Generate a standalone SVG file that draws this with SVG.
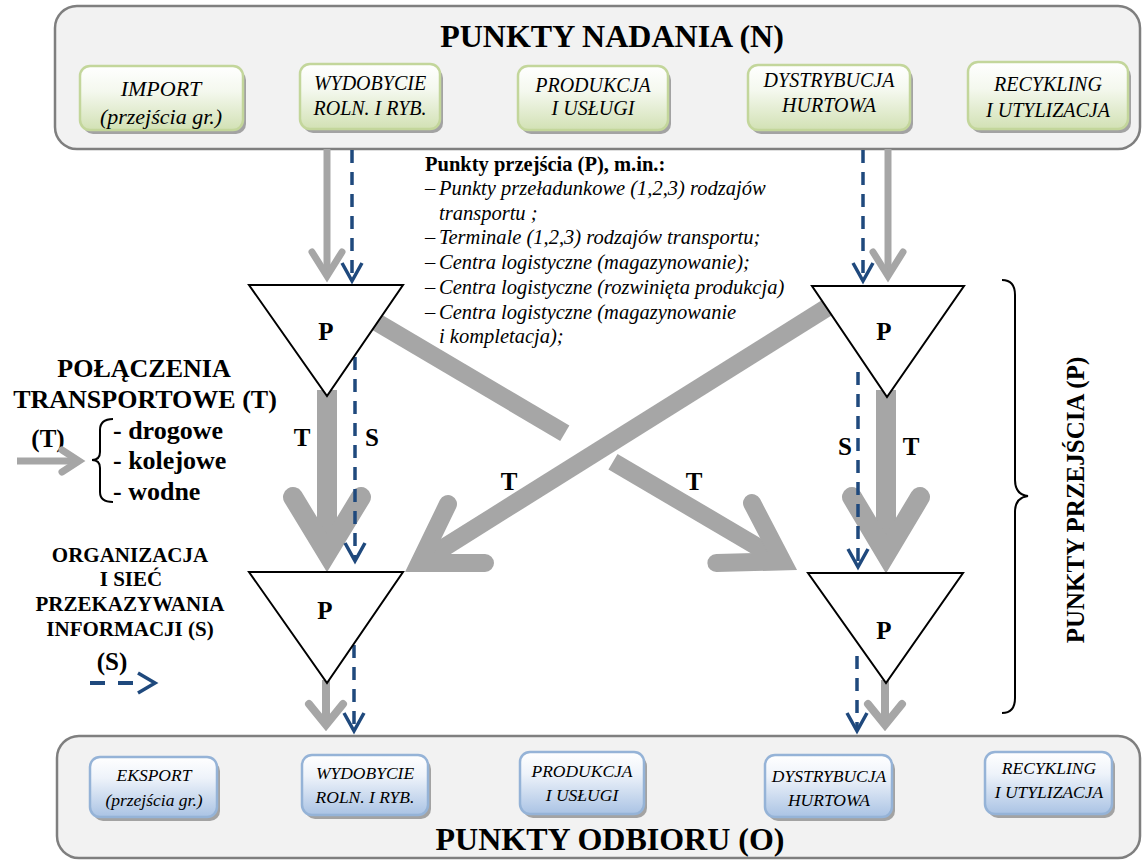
<svg xmlns="http://www.w3.org/2000/svg" width="1144" height="861" viewBox="0 0 1144 861">
<defs>
<linearGradient id="gGreen" x1="0" y1="0" x2="0" y2="1"><stop offset="0" stop-color="#ffffff"/><stop offset="0.4" stop-color="#f4f8ee"/><stop offset="1" stop-color="#d2e1b4"/></linearGradient>
<linearGradient id="gBlue" x1="0" y1="0" x2="0" y2="1"><stop offset="0" stop-color="#ffffff"/><stop offset="0.35" stop-color="#eef3fa"/><stop offset="1" stop-color="#aac3e4"/></linearGradient>
</defs>
<style>
.cont{fill:#f2f2f2;stroke:#7f7f7f;stroke-width:2.5}
.gbox{fill:url(#gGreen);stroke:#c3d69b;stroke-width:2.5}
.bbox{fill:url(#gBlue);stroke:#95b3d7;stroke-width:2.5}
.shadow{fill:#a3a3a3}
.tri{fill:#ffffff;stroke:#000000;stroke-width:2}
.gray{fill:none;stroke:#a6a6a6;stroke-linejoin:miter;stroke-miterlimit:6}
.cap{stroke-linecap:round}
.blue{fill:none;stroke:#1f497d;stroke-width:3.5;stroke-dasharray:13 9}
.bhead{fill:none;stroke:#1f497d;stroke-width:3.5;stroke-linejoin:miter}
.brace{fill:none;stroke:#000000;stroke-width:2}
.it{font-family:"Liberation Serif","Times New Roman",serif;font-style:italic;fill:#000}
.b{font-family:"Liberation Serif","Times New Roman",serif;font-weight:bold;fill:#000}
.mid{text-anchor:middle}
</style>

<g id="nadania">
<rect class="cont" x="55" y="6" width="1085" height="143" rx="22"/>
<text class="b mid" x="612" y="47" font-size="32">PUNKTY NADANIA (N)</text>
</g>

<g id="n-import">
<rect class="shadow" x="83" y="70" width="163" height="64" rx="10"/>
<rect class="gbox" x="80" y="66" width="163" height="64" rx="10"/>
<text class="it mid" x="161" y="96" font-size="22">IMPORT</text>
<text class="it mid" x="161" y="124" font-size="22">(przejścia gr.)</text>
</g>
<g id="n-wydobycie">
<rect class="shadow" x="303" y="68" width="140" height="65" rx="10"/>
<rect class="gbox" x="300" y="64" width="140" height="65" rx="10"/>
<text class="it mid" x="370" y="90" font-size="20">WYDOBYCIE</text>
<text class="it mid" x="370" y="115" font-size="20">ROLN. I RYB.</text>
</g>
<g id="n-produkcja">
<rect class="shadow" x="521" y="70" width="150" height="64" rx="10"/>
<rect class="gbox" x="518" y="66" width="150" height="64" rx="10"/>
<text class="it mid" x="593" y="92" font-size="20">PRODUKCJA</text>
<text class="it mid" x="593" y="115" font-size="20">I USŁUGI</text>
</g>
<g id="n-dystrybucja">
<rect class="shadow" x="751" y="69" width="162" height="65" rx="10"/>
<rect class="gbox" x="748" y="65" width="162" height="65" rx="10"/>
<text class="it mid" x="829" y="87" font-size="20">DYSTRYBUCJA</text>
<text class="it mid" x="829" y="112" font-size="20">HURTOWA</text>
</g>
<g id="n-recykling">
<rect class="shadow" x="971" y="66" width="160" height="67" rx="10"/>
<rect class="gbox" x="968" y="62" width="160" height="67" rx="10"/>
<text class="it mid" x="1048" y="91" font-size="20">RECYKLING</text>
<text class="it mid" x="1048" y="117" font-size="20">I UTYLIZACJA</text>
</g>

<g id="odbioru">
<rect class="cont" x="57" y="736" width="1083" height="122" rx="22"/>
<text class="b mid" x="610" y="850" font-size="32">PUNKTY ODBIORU (O)</text>
</g>
<g id="o-eksport">
<rect class="shadow" x="93" y="761" width="127" height="60" rx="10"/>
<rect class="bbox" x="90" y="757" width="127" height="60" rx="10"/>
<text class="it mid" x="154" y="781" font-size="17.5">EKSPORT</text>
<text class="it mid" x="154" y="806" font-size="17.5">(przejścia gr.)</text>
</g>
<g id="o-wydobycie">
<rect class="shadow" x="305" y="759" width="126" height="60" rx="10"/>
<rect class="bbox" x="302" y="755" width="126" height="60" rx="10"/>
<text class="it mid" x="365" y="779" font-size="17.5">WYDOBYCIE</text>
<text class="it mid" x="365" y="803" font-size="17.5">ROLN. I RYB.</text>
</g>
<g id="o-produkcja">
<rect class="shadow" x="523" y="756" width="124" height="62" rx="10"/>
<rect class="bbox" x="520" y="752" width="124" height="62" rx="10"/>
<text class="it mid" x="582" y="777" font-size="17.5">PRODUKCJA</text>
<text class="it mid" x="582" y="801" font-size="17.5">I USŁUGI</text>
</g>
<g id="o-dystrybucja">
<rect class="shadow" x="768" y="759" width="127" height="62" rx="10"/>
<rect class="bbox" x="765" y="755" width="127" height="62" rx="10"/>
<text class="it mid" x="829" y="782" font-size="17.5">DYSTRYBUCJA</text>
<text class="it mid" x="829" y="806" font-size="17.5">HURTOWA</text>
</g>
<g id="o-recykling">
<rect class="shadow" x="988" y="756" width="127" height="62" rx="10"/>
<rect class="bbox" x="985" y="752" width="127" height="62" rx="10"/>
<text class="it mid" x="1049" y="774" font-size="17.5">RECYKLING</text>
<text class="it mid" x="1049" y="798" font-size="17.5">I UTYLIZACJA</text>
</g>

<g id="connectors">
<!-- top to upper triangles -->
<line class="gray" x1="327" y1="149" x2="327" y2="276" stroke-width="7"/>
<polyline class="gray cap" points="312,252 327,276 342,252" stroke-width="7"/>
<line class="blue" x1="352" y1="150" x2="352" y2="280"/>
<polyline class="bhead" points="342,263 352,281 362,263"/>
<line class="gray" x1="888" y1="149" x2="888" y2="276" stroke-width="7"/>
<polyline class="gray cap" points="873,252 888,276 903,252" stroke-width="7"/>
<line class="blue" x1="863" y1="150" x2="863" y2="280"/>
<polyline class="bhead" points="853,263 863,281 873,263"/>
<!-- vertical T left -->
<line class="gray" x1="327" y1="390" x2="327" y2="553" stroke-width="20"/>
<polyline class="gray cap" points="293,497 327,553 361,497" stroke-width="20"/>
<line class="blue" x1="355" y1="357" x2="355" y2="559"/>
<polyline class="bhead" points="345,543 355,561 365,543"/>
<!-- vertical T right -->
<line class="gray" x1="886" y1="390" x2="886" y2="554" stroke-width="20"/>
<polyline class="gray cap" points="852,497 886,554 920,497" stroke-width="20"/>
<line class="blue" x1="858" y1="372" x2="858" y2="566"/>
<polyline class="bhead" points="848,549 858,567 868,549"/>
<!-- diagonal upper-left to lower-right -->
<line class="gray" x1="365" y1="315.3" x2="564.8" y2="433.2" stroke-width="18"/>
<line class="gray" x1="613" y1="461.7" x2="782.4" y2="561.4" stroke-width="18"/>
<polyline class="gray cap" points="752,503 782.4,561.4 716.4,563" stroke-width="18"/>
<!-- diagonal upper-right to lower-left -->
<line class="gray" x1="836" y1="302" x2="419.4" y2="563" stroke-width="18"/>
<polyline class="gray cap" points="448,504 419.4,563 485,563" stroke-width="18"/>
<!-- lower triangles to bottom -->
<line class="gray" x1="326" y1="680" x2="326" y2="725" stroke-width="8"/>
<polyline class="gray cap" points="309,704 326,725 343,704" stroke-width="8"/>
<line class="blue" x1="354" y1="645" x2="354" y2="729"/>
<polyline class="bhead" points="344,713 354,731 364,713"/>
<line class="gray" x1="885" y1="680" x2="885" y2="725" stroke-width="8"/>
<polyline class="gray cap" points="868,704 885,725 902,704" stroke-width="8"/>
<line class="blue" x1="857" y1="656" x2="857" y2="729"/>
<polyline class="bhead" points="847,713 857,731 867,713"/>
</g>

<g id="p-ul">
<polygon class="tri" points="249,285 403,285 327,396"/>
<text class="b mid" x="326" y="340" font-size="25">P</text>
</g>
<g id="p-ur">
<polygon class="tri" points="812,286 964,286 887,397"/>
<text class="b mid" x="884" y="340" font-size="25">P</text>
</g>
<g id="p-ll">
<polygon class="tri" points="249,572 403,572 327,683"/>
<text class="b mid" x="325" y="619" font-size="25">P</text>
</g>
<g id="p-lr">
<polygon class="tri" points="808,573 963,573 886,683"/>
<text class="b mid" x="884" y="639" font-size="25">P</text>
</g>

<g id="labels">
<text class="b mid" x="302" y="446" font-size="25">T</text>
<text class="b mid" x="372" y="446" font-size="25">S</text>
<text class="b mid" x="845" y="455" font-size="25">S</text>
<text class="b mid" x="911" y="455" font-size="25">T</text>
<text class="b mid" x="509" y="490" font-size="25">T</text>
<text class="b mid" x="694" y="490" font-size="25">T</text>
</g>

<g id="lista">
<text class="b" x="425" y="171" font-size="20.5">Punkty przejścia (P), m.in.:</text>
<g class="it" font-size="20.5">
<text x="425" y="195"><tspan font-style="normal">–</tspan><tspan x="439">Punkty przeładunkowe (1,2,3) rodzajów</tspan></text>
<text x="439" y="219.7">transportu ;</text>
<text x="425" y="244.4"><tspan font-style="normal">–</tspan><tspan x="439">Terminale (1,2,3) rodzajów transportu;</tspan></text>
<text x="425" y="269"><tspan font-style="normal">–</tspan><tspan x="439">Centra logistyczne (magazynowanie);</tspan></text>
<text x="425" y="293.8"><tspan font-style="normal">–</tspan><tspan x="439">Centra logistyczne (rozwinięta produkcja)</tspan></text>
<text x="425" y="318.5"><tspan font-style="normal">–</tspan><tspan x="439">Centra logistyczne (magazynowanie</tspan></text>
<text x="439" y="343">i kompletacja);</text>
</g>
</g>

<g id="legend-t">
<text class="b mid" x="144" y="377" font-size="26">POŁĄCZENIA</text>
<text class="b mid" x="145" y="408" font-size="26">TRANSPORTOWE (T)</text>
<text class="b mid" x="48" y="447" font-size="25">(T)</text>
<line class="gray" x1="17" y1="461" x2="79" y2="461" stroke-width="7"/>
<polyline class="gray cap" points="62,450 79,461 62,472" stroke-width="7"/>
<path class="brace" d="M113,419 C105,419 100,422 100,430 L100,452 C100,457 97,460 92,460 C97,460 100,463 100,468 L100,492 C100,499 105,502 113,502"/>
<text class="b" x="113" y="439" font-size="26">- drogowe</text>
<text class="b" x="113" y="469" font-size="26">- kolejowe</text>
<text class="b" x="113" y="500" font-size="26">- wodne</text>
</g>

<g id="legend-s">
<text class="b mid" x="130" y="562" font-size="21">ORGANIZACJA</text>
<text class="b mid" x="131" y="586" font-size="21">I SIEĆ</text>
<text class="b mid" x="130" y="611" font-size="21">PRZEKAZYWANIA</text>
<text class="b mid" x="130" y="636" font-size="21">INFORMACJI (S)</text>
<text class="b mid" x="112" y="670" font-size="25">(S)</text>
<line x1="90" y1="683" x2="105" y2="683" stroke="#1f497d" stroke-width="4"/>
<line x1="118" y1="683" x2="133" y2="683" stroke="#1f497d" stroke-width="4"/>
<polyline class="bhead" points="138,673 155,683 138,693" stroke-width="4"/>
</g>

<g id="przejscia">
<path class="brace" d="M1002,280 C1011,280 1015,285 1015,295 L1015,480 C1015,490 1020,495 1028,496 C1020,497 1015,502 1015,512 L1015,698 C1015,708 1011,713 1002,713"/>
<text class="b mid" transform="translate(1084,500) rotate(-90)" font-size="25">PUNKTY PRZEJŚCIA (P)</text>
</g>
</svg>
